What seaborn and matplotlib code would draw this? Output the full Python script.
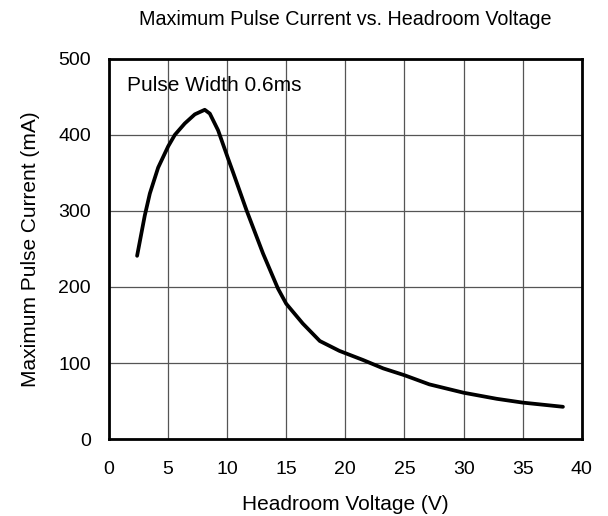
import matplotlib
matplotlib.use("Agg")
import matplotlib.pyplot as plt
import seaborn as sns
import pandas as pd

# values
headroom_v = [2.39, 3.04, 3.47, 4.17, 5.02, 5.58, 6.42, 7.27, 8.11, 8.54, 9.24,
              10.08, 10.5, 11.64, 13.04, 14.3, 15.0, 16.4, 17.84, 19.5, 21.5,
              23.2, 25.0, 27.1, 30.0, 32.8, 35.0, 38.4]
pulse_ma = [241, 294, 323, 357, 385, 400, 415, 427, 433, 428, 406,
            369, 351, 301, 244, 198, 178, 152, 129, 116, 104,
            93, 84, 72, 61, 53, 48, 42.5]

x_ticks = [0, 5, 10, 15, 20, 25, 30, 35, 40]
y_ticks = [0, 100, 200, 300, 400, 500]

sns.set_style("white")
plt.rcParams['font.family'] = ['Liberation Sans', 'DejaVu Sans']
plt.rcParams['text.color'] = 'black'
plt.rcParams['axes.labelcolor'] = 'black'

df = pd.DataFrame({"v": headroom_v, "i": pulse_ma})

fig = plt.figure(figsize=(6.08, 5.16), dpi=100)
ax = fig.add_axes([0.179, 0.149, 0.778, 0.737])

sns.lineplot(data=df, x="v", y="i", ax=ax, color="black", linewidth=2.7,
             sort=False, estimator=None)

ax.set_xlim(0, 40)
ax.set_ylim(0, 500)
ax.set_xticks(x_ticks)
ax.set_yticks(y_ticks)
ax.grid(True, color="#555555", linewidth=0.9)
ax.set_axisbelow(True)
for sp in ax.spines.values():
    sp.set_visible(True)
    sp.set_color("black")
    sp.set_linewidth(2.0)
ax.tick_params(axis="both", length=0, labelsize=14, colors="black")
ax.tick_params(axis="x", pad=16)
ax.tick_params(axis="y", pad=13)

ax.set_xlabel("Headroom Voltage (V)", fontsize=15, labelpad=12, color="black")
ax.set_ylabel("Maximum Pulse Current (mA)", fontsize=15, labelpad=13, color="black")
ax.set_title("Maximum Pulse Current vs. Headroom Voltage", fontsize=14.2, pad=24,
             color="black")

ax.text(1.55, 458, "Pulse Width 0.6ms", fontsize=15, ha="left", va="baseline",
        color="black")

fig.savefig("out.png", dpi=100)
